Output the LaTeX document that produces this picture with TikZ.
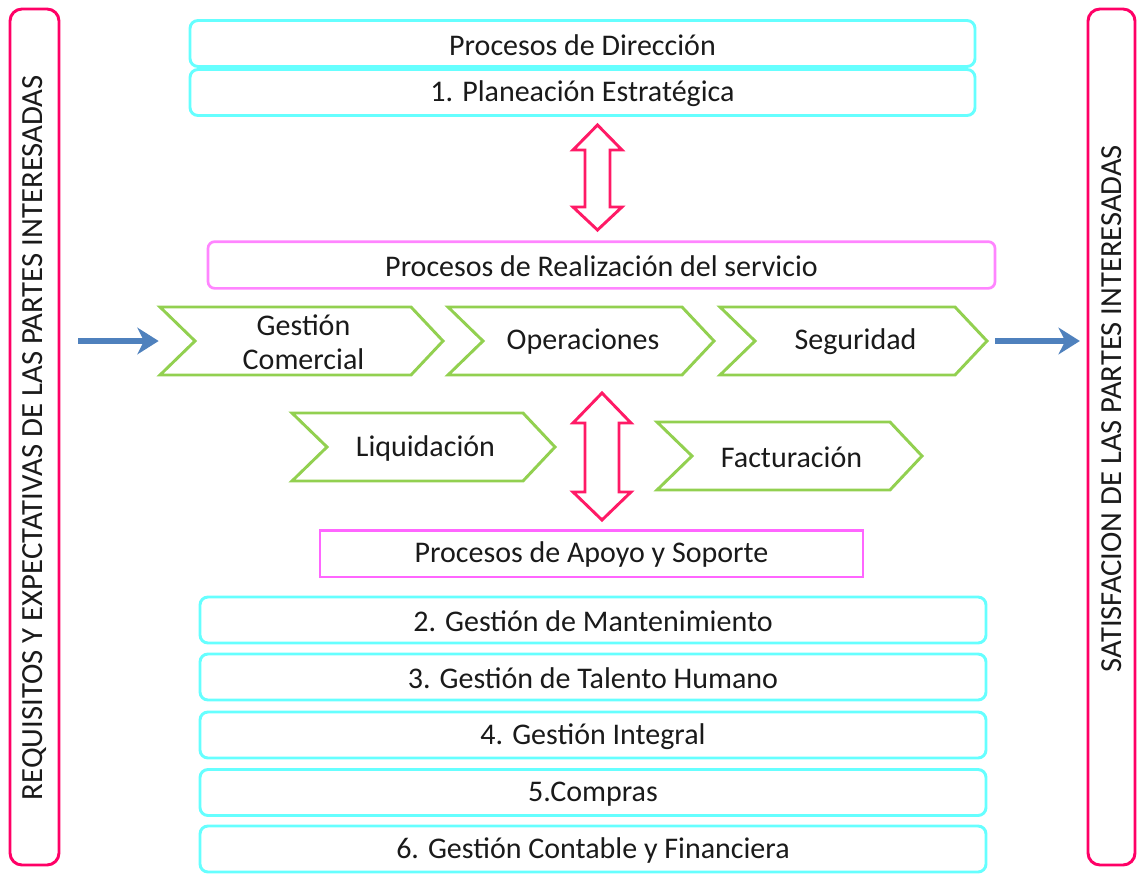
\documentclass[tikz,border=0pt]{standalone}
\usepackage{fontspec}
\setmainfont{Carlito}
\usetikzlibrary{arrows.meta}
\definecolor{cyanb}{HTML}{66FFFF}
\definecolor{sidepink}{HTML}{FF0066}
\definecolor{magb}{HTML}{FF66FF}
\definecolor{greenb}{HTML}{92D050}
\definecolor{arrowpink}{HTML}{FF1A66}
\definecolor{bluea}{HTML}{4F81BD}
\definecolor{txt}{HTML}{1A1A1A}
\newcommand\mychev[6]{%
  \draw[chev] (#2,#4) -- ({#3-32},#4) -- (#3,{(#4+#5)/2}) -- ({#3-32},#5) -- (#2,#5) -- ({#2+35},{(#4+#5)/2}) -- cycle;
  \coordinate (#1-w) at (#2,{(#4+#5)/2});
  \coordinate (#1-e) at (#3,{(#4+#5)/2});
  \node[chevtext] (#1) at ({(#2+#3)/2+2},{(#4+#5)/2+1}) {#6};}
\begin{document}
\begin{tikzpicture}[x=0.75pt,y=-0.75pt,
  every node/.style={text=txt, font=\fontsize{22.5}{25.5}\selectfont, inner sep=0pt},
  cbox/.style={draw=cyanb, line width=2.2pt, rounded corners=6pt, minimum height=34.5pt},
  sidebox/.style={draw=sidepink, line width=2.2pt, rounded corners=9pt, minimum height=642pt},
  mbox/.style={draw=magb, line width=2pt, minimum height=35pt},
  chev/.style={draw=greenb, line width=2.2pt, line join=miter},
  chevtext/.style={align=center},
  dblarrow/.style={draw=arrowpink, line width=2.2pt, line join=miter},
  bluearrow/.style={draw=bluea, line width=4.5pt, -{Stealth[length=16pt,width=20pt,inset=5pt]}},
  sidetext/.style={rotate=90, font=\fontsize{20}{22}\selectfont},
  lbl/.style={yshift=-1pt}
]
\useasboundingbox (0,0) rectangle (1139,874);

% side boxes
\node[sidebox, minimum width=36.75pt] (left) at (34.5,437) {};
\node[sidebox, minimum width=35.25pt] (right) at (1111.5,437) {};
\node[sidetext] (lefttext) at (35,437.5) {\resizebox{543.75pt}{!}{REQUISITOS Y EXPECTATIVAS DE LAS PARTES INTERESADAS}};
\node[sidetext] (righttext) at (1112,408.5) {\resizebox{395.25pt}{!}{SATISFACION DE LAS PARTES INTERESADAS}};

% direction boxes
\node[cbox, minimum width=588.75pt] (dir) at (582.5,43.5) {};
\node[lbl] (dirt) at (dir) {Procesos de Dirección};
\node[cbox, minimum width=588.75pt] (plan) at (582.5,92.5) {};
\node[lbl] (plant) at (plan) {1. Planeación Estratégica};

% top double arrow
\draw[dblarrow] (597.5,125) -- (622,150) -- (610,150) -- (610,207) -- (622,207) -- (597.5,230)
  -- (573,207) -- (585,207) -- (585,150) -- (573,150) -- cycle;

% realization
\node[mbox, draw=magb!80!white, rounded corners=5pt, minimum width=590.25pt] (real) at (601.5,265) {};
\node[lbl] (realt) at (real) {Procesos de Realización del servicio};

% chevrons
\mychev{gc}{160}{443}{307}{375}{Gestión\\Comercial}
\mychev{op}{448}{714}{307}{375}{Operaciones}
\mychev{sg}{720}{987}{307}{375}{Seguridad}
\mychev{lq}{292}{555}{413}{481}{Liquidación}
\mychev{fc}{657}{922}{422}{490}{Facturación}

% blue arrows
\coordinate (lin) at (78,341);
\draw[bluearrow] (lin) -- ([xshift=-1pt]gc-w);
\draw[bluearrow] ([xshift=6pt]sg-e) -- ([xshift=-5pt]right.west |- sg-e);

% middle double arrow
\draw[dblarrow] (602,393) -- (631,423) -- (619,423) -- (619,492) -- (631,492) -- (602,520)
  -- (573,492) -- (585,492) -- (585,423) -- (573,423) -- cycle;

% support
\node[mbox, minimum width=407.25pt] (apoyo) at (591.5,553.5) {};
\node[lbl] (apoyot) at (apoyo) {Procesos de Apoyo y Soporte};

\node[cbox, minimum width=589.5pt] (b2) at (593,620) {};
\node[lbl] (b2t) at (b2) {2. Gestión de Mantenimiento};
\node[cbox, minimum width=589.5pt] (b3) at (593,677) {};
\node[lbl] (b3t) at (b3) {3. Gestión de Talento Humano};
\node[cbox, minimum width=589.5pt] (b4) at (593,735) {};
\node[lbl] (b4t) at (b4) {4. Gestión Integral};
\node[cbox, minimum width=589.5pt] (b5) at (593,792.5) {};
\node[lbl] (b5t) at (b5) {5.Compras};
\node[cbox, minimum width=589.5pt] (b6) at (593,849) {};
\node[lbl] (b6t) at (b6) {6. Gestión Contable y Financiera};
\end{tikzpicture}
\end{document}
